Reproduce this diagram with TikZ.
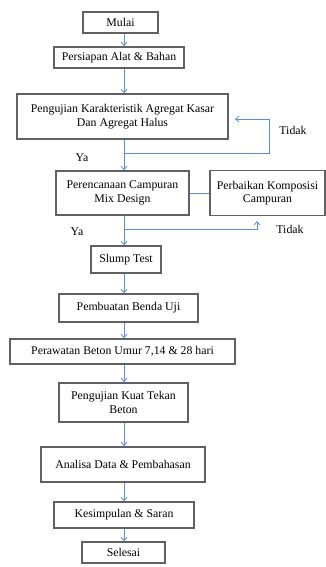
\documentclass[tikz,border=0pt]{standalone}
\usepackage{fontspec}
\setmainfont{Liberation Serif}
\usetikzlibrary{arrows.meta}
\definecolor{arrblue}{RGB}{91,142,206}
\tikzset{
  stepbox/.style={draw=black!62, line width=1.5pt, fill=white, inner sep=1pt,
    align=center, font=\fontsize{11.8}{13.5}\selectfont},
  arr/.style={draw=arrblue, line width=0.8pt, -{Straight Barb[length=3.5pt,width=6pt]}},
  conn/.style={draw=arrblue, line width=0.8pt},
  lbl/.style={font=\fontsize{11.8}{13}\selectfont, inner sep=0pt}
}
\begin{document}
\begin{tikzpicture}[x=1pt,y=-1pt]
\useasboundingbox (0,0) rectangle (326,567);
\node[stepbox, minimum width=75pt, minimum height=21pt] (mulai) at (120.5,22.5) {Mulai};
\node[stepbox, minimum width=130pt, minimum height=21pt] (persiapan) at (119,57.5) {Persiapan Alat \& Bahan};
\node[stepbox, minimum width=211pt, minimum height=45pt] (agregat) at (122.5,116.5) {Pengujian Karakteristik Agregat Kasar\\Dan Agregat Halus};
\node[stepbox, minimum width=133pt, minimum height=44pt] (rencana) at (122.5,193) {Perencanaan Campuran\\Mix Design};
\node[stepbox, minimum width=115pt, minimum height=45pt] (perbaikan) at (267.5,193) {Perbaikan Komposisi\\Campuran};
\node[stepbox, minimum width=70pt, minimum height=27pt] (slump) at (126,259.5) {Slump Test};
\node[stepbox, minimum width=139pt, minimum height=28pt] (benda) at (128.5,308) {Pembuatan Benda Uji};
\node[stepbox, minimum width=225pt, minimum height=25pt] (rawat) at (122.5,351.5) {Perawatan Beton Umur 7,14 \& 28 hari};
\node[stepbox, minimum width=129pt, minimum height=39pt] (kuat) at (123.5,402.5) {Pengujian Kuat Tekan\\Beton};
\node[stepbox, minimum width=164pt, minimum height=35pt] (analisa) at (123,464.5) {Analisa Data \& Pembahasan};
\node[stepbox, minimum width=140pt, minimum height=26pt] (simpul) at (124,515) {Kesimpulan \& Saran};
\node[stepbox, minimum width=83pt, minimum height=21pt] (selesai) at (123.5,552.5) {Selesai};

\coordinate (ax) at (124,0);
\draw[arr] (mulai.south -| ax) -- (persiapan.north -| ax);
\draw[arr] (persiapan.south -| ax) -- (agregat.north -| ax);
\draw[arr] (agregat.south -| ax) -- (rencana.north -| ax);
\draw[arr] (rencana.south -| ax) -- (slump.north -| ax);
\draw[arr] (slump.south -| ax) -- (benda.north -| ax);
\draw[arr] (benda.south -| ax) -- (rawat.north -| ax);
\draw[arr] (rawat.south -| ax) -- (kuat.north -| ax);
\draw[arr] (kuat.south -| ax) -- (analisa.north -| ax);
\draw[arr] (analisa.south -| ax) -- (simpul.north -| ax);
\draw[arr] (simpul.south -| ax) -- (selesai.north -| ax);

\coordinate (j1) at (124,153);
\coordinate (t1) at (269,119);
\coordinate (t1e) at (235,119);
\draw[arr] (j1) -| (t1) -- (t1e);

\draw[conn] (rencana.east) -- (perbaikan.west);
\coordinate (j2) at (124,229);
\coordinate (t2) at (257,221);
\draw[arr] (j2) -| (t2);

\node[lbl] (tidak1) at (293,130) {Tidak};
\node[lbl] (ya1) at (82,158) {Ya};
\node[lbl] (ya2) at (77,232) {Ya};
\node[lbl] (tidak2) at (290,229) {Tidak};
\end{tikzpicture}
\end{document}
